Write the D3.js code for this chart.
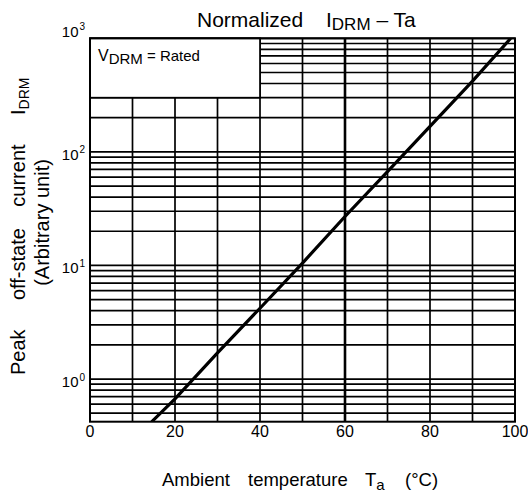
<!DOCTYPE html>
<html>
<head>
<meta charset="utf-8">
<script src="https://cdn.jsdelivr.net/npm/d3@7"></script>
<style>
  html, body { margin: 0; padding: 0; background: #fff; }
  svg { display: block; }
  text { font-family: "Liberation Sans", Arial, sans-serif; fill: #000; white-space: pre; }
</style>
</head>
<body>
<svg id="chart" width="528" height="491"></svg>
<script>
// ---- data ----
const taValues   = [14.5, 20, 30, 40, 50, 60, 70, 80, 90, 99];          // Ambient temperature (°C)
const idrmValues = [0.42, 0.67, 1.7, 4.2, 10.5, 27, 67, 168, 420, 1000]; // normalized I_DRM
const xTickValues = [0, 20, 40, 60, 80, 100];
const xGridValues = [10, 20, 30, 40, 50, 60, 70, 80, 90];
const yDecadeValues = [1, 10, 100, 1000];
const yDecadeExponents = ["0", "1", "2", "3"];
const xDomain = [0, 100];
const yDomain = [0.421, 1000];
const boxTa = 40, boxI = 300;   // annotation box corner (data units)

// ---- layout ----
const svg = d3.select("#chart");
const L = 90, R = 515, T = 38.3, B = 421.7;
const x = d3.scaleLinear().domain(xDomain).range([L, R]);
const y = d3.scaleLog().domain(yDomain).range([B, T]);

const g = svg.append("g");

// horizontal grid (1..9 per decade)
g.selectAll(".hgrid").data(y.ticks()).enter().append("line")
  .attr("x1", L).attr("x2", R)
  .attr("y1", d => y(d)).attr("y2", d => y(d))
  .attr("stroke", "#000").attr("stroke-width", 1.7);

// vertical grid
g.selectAll(".vgrid").data(xGridValues).enter().append("line")
  .attr("x1", d => x(d)).attr("x2", d => x(d))
  .attr("y1", T).attr("y2", B)
  .attr("stroke", "#000").attr("stroke-width", d => d === 60 ? 2.6 : 1.7);

// annotation box
g.append("rect")
  .attr("x", x(0)).attr("y", y(1000))
  .attr("width", x(boxTa) - x(0)).attr("height", y(boxI) - y(1000))
  .attr("fill", "#fff").attr("stroke", "#000").attr("stroke-width", 1.7);

const boxText = g.append("text").attr("x", 98).attr("y", 61).attr("font-size", 16);
boxText.append("tspan").text("V");
boxText.append("tspan").attr("dy", 3).attr("font-size", 15).text("DRM");
boxText.append("tspan").attr("dy", -3).attr("font-size", 15).text(" = Rated");

// curve
const clip = svg.append("clipPath").attr("id", "plotclip");
clip.append("rect").attr("x", L).attr("y", T).attr("width", R - L).attr("height", B - T);
g.append("path")
  .datum(taValues.map((t, i) => [t, idrmValues[i]]))
  .attr("clip-path", "url(#plotclip)")
  .attr("fill", "none").attr("stroke", "#000").attr("stroke-width", 3.2)
  .attr("d", d3.line().x(d => x(d[0])).y(d => y(d[1])));

// frame
g.append("rect").attr("x", L).attr("y", T).attr("width", R - L).attr("height", B - T)
  .attr("fill", "none").attr("stroke", "#000").attr("stroke-width", 2);

// x tick labels
g.selectAll(".xt").data(xTickValues).enter().append("text")
  .attr("x", d => x(d)).attr("y", 437).attr("text-anchor", "middle")
  .attr("font-size", 16).text(d => d);

// y tick labels
yDecadeValues.forEach((v, i) => {
  const top = i === yDecadeValues.length - 1;
  const ty = top ? y(v) - 1 : y(v) + 8;
  g.append("text").attr("x", 78.5).attr("y", ty).attr("text-anchor", "end").attr("font-size", 15).text("10");
  g.append("text").attr("x", 79.5).attr("y", top ? ty - 7 : y(v) + 1.5).attr("font-size", 10).text(yDecadeExponents[i]);
});

// title
const title = svg.append("text").attr("y", 26.5).attr("font-size", 21);
title.append("tspan").attr("x", 197).text("Normalized");
title.append("tspan").attr("x", 326).text("I");
title.append("tspan").attr("dy", 3.5).attr("font-size", 17).text("DRM");
title.append("tspan").attr("dy", -3.5).text(" – Ta");

// x axis title
const xt = svg.append("text").attr("y", 485.5).attr("font-size", 18.5);
xt.append("tspan").attr("x", 162).text("Ambient");
xt.append("tspan").attr("x", 248).text("temperature");
xt.append("tspan").attr("x", 365).text("T");
xt.append("tspan").attr("dy", 4).attr("font-size", 15).text("a");
xt.append("tspan").attr("x", 405).attr("dy", -4).text("(°C)");

// y axis title (two lines, rotated)
const yt1 = svg.append("text").attr("transform", "rotate(-90)").attr("y", 25).attr("font-size", 20);
yt1.append("tspan").attr("x", -375).text("Peak");
yt1.append("tspan").attr("x", -300).text("off-state");
yt1.append("tspan").attr("x", -206.7).text("current");
yt1.append("tspan").attr("x", -115).text("I");
yt1.append("tspan").attr("dy", 4).attr("font-size", 14).text("DRM");
svg.append("text").attr("transform", "rotate(-90)")
  .attr("x", -222.5).attr("y", 49)
  .attr("text-anchor", "middle").attr("font-size", 20).text("(Arbitrary unit)");
</script>
</body>
</html>
